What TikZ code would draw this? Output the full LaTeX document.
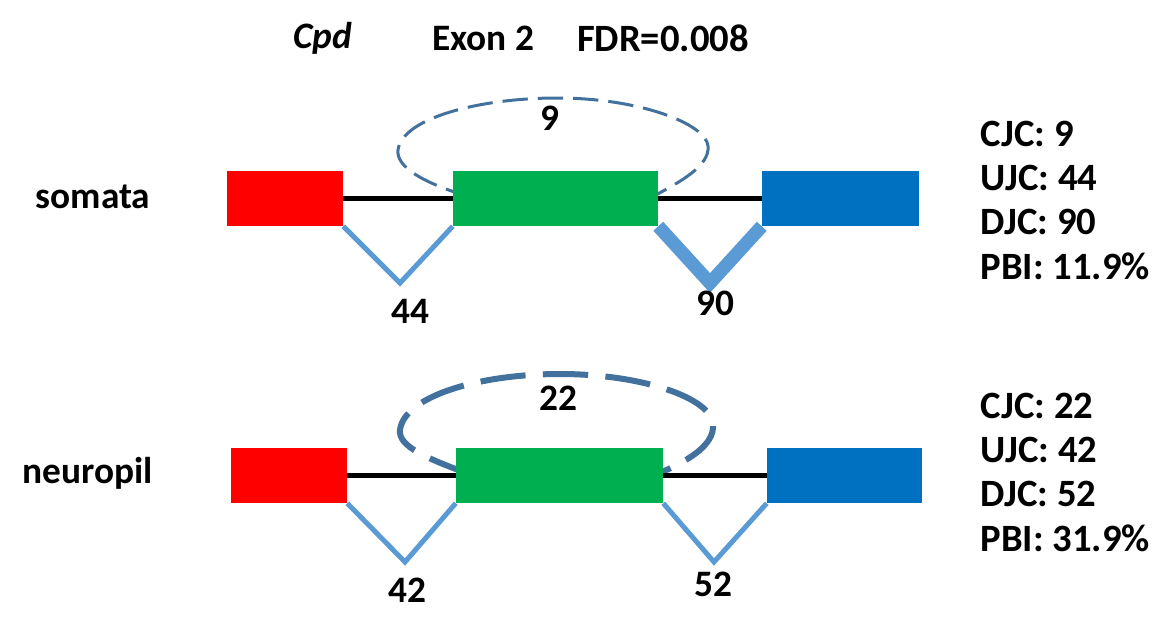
\documentclass[tikz,border=0pt]{standalone}
\usepackage{fontspec}
\setmainfont{Carlito}
\definecolor{exon_red}{RGB}{255,0,0}
\definecolor{exon_green}{RGB}{0,176,80}
\definecolor{exon_blue}{RGB}{0,112,192}
\definecolor{junc_blue}{RGB}{91,155,213}
\definecolor{skip_blue}{RGB}{65,113,156}

\begin{document}
\begin{tikzpicture}[x=0.75pt,y=-0.75pt,font=\bfseries\fontsize{28}{32}\selectfont]
    \tikzstyle{exon}=[draw=none, rectangle, inner sep=0pt, minimum height=41.25pt]
    \tikzstyle{up}=[style=exon,fill=exon_red,minimum width=87pt]
    \tikzstyle{mid}=[style=exon,fill=exon_green]
    \tikzstyle{dn}=[style=exon,fill=exon_blue]
    \tikzstyle{intron}=[draw=black, line width=3.5pt]
    \tikzstyle{junc}=[draw=junc_blue, line width=3.75pt]
    \tikzstyle{skip}=[draw=skip_blue, dash pattern=on 19pt off 7.5pt, line width=2.25pt]
    \tikzstyle{count}=[font=\bfseries\fontsize{28}{32}\selectfont]
    \tikzstyle{stat}=[anchor=west, font=\bfseries\fontsize{29}{33}\selectfont]
    \useasboundingbox (0,0) rectangle (1176,635);

    % title
    \node[font=\bfseries\itshape\fontsize{28}{32}\selectfont] (gene) at (323,38) {Cpd};
    \node (exn) at (483,38) {Exon 2};
    \node[font=\bfseries\fontsize{29}{33}\selectfont] (fdr) at (663,38) {FDR=0.008};

    % somata
    \node (lsom) at (93,197) {somata};
    \coordinate (ks1) at (470,197);
    \coordinate (ks2) at (652,197);
    \draw[skip] (ks1) .. controls (420,182) and (396,166) .. (398,150)
      .. controls (402,118) and (480,98) .. (557,98)
      .. controls (640,98) and (706,124) .. (708,146)
      .. controls (710,166) and (680,182) .. (ks2);
    \node[up]  (rs) at (285,198.5)   {};
    \node[mid, minimum width=153.75pt] (gs) at (555.5,198.5) {};
    \node[dn, minimum width=117.75pt]  (bs) at (840.5,198.5) {};
    \coordinate (js1) at (400,283);
    \coordinate (js2) at (710,283);
    \path
     (rs.east) edge[intron] (gs.west)
     (gs.east) edge[intron] (bs.west)
     ;
    \draw[junc] (rs.south east) -- (js1) -- (gs.south west);
    \draw[junc, line width=10pt] (gs.south east) -- (js2) -- (bs.south west);
    \node[count] (cs) at (550,118) {9};
    \node[count] (us) at (410,311) {44};
    \node[count] (ds) at (715,303) {90};
    \node[stat] (s1) at (976,134) {CJC: 9};
    \node[stat] (s2) at (976,178) {UJC: 44};
    \node[stat] (s3) at (976,222) {DJC: 90};
    \node[stat] (s4) at (976,266) {PBI: 11.9\%};

    % neuropil
    \node (lneu) at (88,473) {neuropil};
    \coordinate (kn1) at (472,475);
    \coordinate (kn2) at (655,475);
    \draw[skip, line width=4.5pt, dash pattern=on 34pt off 13pt] (kn1) .. controls (425,458) and (398,446) .. (400,430)
      .. controls (404,396) and (480,374) .. (560,374)
      .. controls (642,374) and (711,398) .. (713,424)
      .. controls (715,446) and (686,462) .. (kn2);
    \node[up]  (rn) at (289,475.5)   {};
    \node[mid, minimum width=155.25pt] (gn) at (559.5,475.5) {};
    \node[dn, minimum width=116.25pt]  (bn) at (844.5,475.5) {};
    \coordinate (jn1) at (405,562);
    \coordinate (jn2) at (714,562);
    \path
     (rn.east) edge[intron] (gn.west)
     (gn.east) edge[intron] (bn.west)
     ;
    \draw[junc] (rn.south east) -- (jn1) -- (gn.south west);
    \draw[junc] (gn.south east) -- (jn2) -- (bn.south west);
    \node[count] (cn) at (558,398) {22};
    \node[count] (un) at (407,590) {42};
    \node[count] (dnn) at (713,584) {52};
    \node[stat] (n1) at (976,406) {CJC: 22};
    \node[stat] (n2) at (976,450) {UJC: 42};
    \node[stat] (n3) at (976,494) {DJC: 52};
    \node[stat] (n4) at (976,538) {PBI: 31.9\%};
\end{tikzpicture}
\end{document}
